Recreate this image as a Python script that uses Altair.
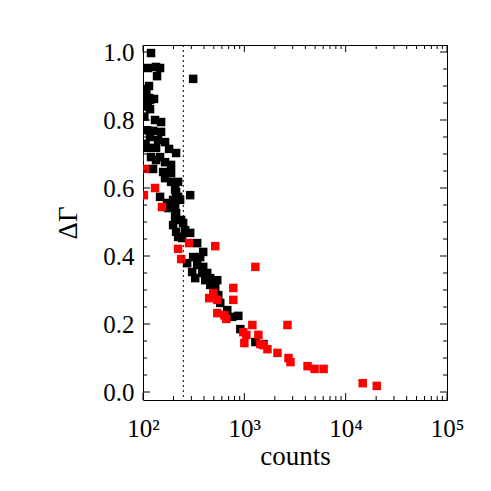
import altair as alt
import pandas as pd

# ---- data ----
black_counts = [120.0, 112.1, 134.5, 147.4, 137.6, 312.6, 114.7, 104.7, 107.1, 114.7,
                128.5, 112.1, 117.3, 131.5, 150.8, 125.6, 150.8, 117.3, 140.8, 165.1,
                112.1, 134.5, 180.9, 212.2, 120.0, 147.4, 134.5, 165.1, 125.6, 157.8,
                189.3, 189.3, 165.1, 189.3, 222.1, 207.4, 147.4, 222.1, 292.1, 212.2,
                172.8, 198.2, 232.4, 176.8, 207.4, 212.2, 207.4, 237.8, 198.2, 248.9,
                212.2, 260.5, 292.1, 222.1, 243.3, 342.5, 392.8, 312.6, 366.8, 272.7,
                342.5, 392.8, 305.6, 383.9, 430.2, 327.3, 411.1, 460.8, 540.5, 460.8,
                516.4, 552.9, 578.7, 678.6, 648.4, 760.5, 872.2, 912.8, 1285, 1542,
                104.0, 108.0, 103.0, 110.0, 106.0, 118.0]
black_dg = [0.997, 0.953, 0.956, 0.953, 0.929, 0.921, 0.900, 0.891, 0.865, 0.865,
            0.862, 0.847, 0.832, 0.800, 0.794, 0.768, 0.765, 0.750, 0.741, 0.735,
            0.718, 0.718, 0.715, 0.703, 0.691, 0.691, 0.682, 0.676, 0.656, 0.647,
            0.668, 0.644, 0.629, 0.618, 0.618, 0.594, 0.574, 0.574, 0.579, 0.588,
            0.556, 0.565, 0.565, 0.541, 0.541, 0.526, 0.515, 0.506, 0.491, 0.497,
            0.471, 0.476, 0.468, 0.456, 0.453, 0.438, 0.412, 0.397, 0.397, 0.379,
            0.374, 0.368, 0.353, 0.350, 0.350, 0.335, 0.329, 0.335, 0.329, 0.315,
            0.309, 0.285, 0.262, 0.241, 0.226, 0.221, 0.224, 0.185, 0.147, 0.141,
            0.84, 0.88, 0.81, 0.77, 0.73, 0.86]

red_counts = [92, 104.7, 102, 131.5, 154, 285, 516, 222, 238, 1285,
              778, 450, 493, 541, 778, 541, 634, 664, 1200, 2665,
              977, 1047, 1376, 1000, 1439, 1542, 1690, 2123, 2727, 2853,
              4205, 4935, 6057, 14730, 20280]
red_dg = [0.691, 0.656, 0.579, 0.600, 0.544, 0.438, 0.429, 0.421, 0.391, 0.368,
          0.306, 0.276, 0.291, 0.271, 0.271, 0.232, 0.226, 0.215, 0.197, 0.197,
          0.176, 0.168, 0.168, 0.144, 0.141, 0.138, 0.126, 0.115, 0.100, 0.088,
          0.076, 0.068, 0.068, 0.026, 0.018]

cut_counts = [250]

x_major = [100, 1000, 10000, 100000]
x_minor = [m * d for d in (100, 1000, 10000) for m in range(2, 10)]
y_major = [0.0, 0.2, 0.4, 0.6, 0.8, 1.0]
y_minor = [0.05, 0.10, 0.15, 0.25, 0.30, 0.35, 0.45, 0.50, 0.55, 0.65,
           0.70, 0.75, 0.85, 0.90, 0.95]

# ---- tables ----
pts = pd.DataFrame({
    "counts": black_counts + red_counts,
    "dg": black_dg + red_dg,
    "grp": ["black"] * len(black_counts) + ["red"] * len(red_counts),
})
xmaj = pd.DataFrame({"counts": x_major})
xmin = pd.DataFrame({"counts": x_minor})
ymaj = pd.DataFrame({"dg": y_major})
ymin = pd.DataFrame({"dg": y_minor})
cut = pd.DataFrame({"counts": cut_counts})

W, H = 304, 355
FONT = "Liberation Serif"
xs = alt.Scale(type="log", domain=[100, 100000], nice=False)
ys = alt.Scale(domain=[-0.0235, 1.0206], nice=False, zero=False)

label_expr = ("datum.value == 100 ? '10²' : datum.value == 1000 ? '10³' : "
              "datum.value == 10000 ? '10⁴' : '10⁵'")

common = dict(labelFont=FONT, labelFontSize=25, labelColor="black",
              titleFont=FONT, titleFontSize=27, titleFontWeight="normal",
              titleColor="black", ticks=False, domain=False, grid=False)

XAX = alt.Axis(values=x_major, labelExpr=label_expr, labelPadding=16,
               titlePadding=2, labelFlush=False, **common)
YAX = alt.Axis(values=y_major, format=".1f", labelPadding=9, titlePadding=20,
               **common)

def X():
    return alt.X("counts:Q", scale=xs, title="counts", axis=XAX)

def Y():
    return alt.Y("dg:Q", scale=ys, title="ΔΓ", axis=YAX)

points = alt.Chart(pts).mark_square(size=72, opacity=1, clip=True).encode(
    x=X(), y=Y(),
    color=alt.Color("grp:N", scale=alt.Scale(domain=["black", "red"],
                                             range=["#000000", "#ff0000"]),
                    legend=None),
    order=alt.Order("grp:N"),
)

cutline = alt.Chart(cut).mark_rule(color="black", strokeWidth=1,
                                   strokeDash=[2, 3]).encode(x=X())

TL, TS = 7, 4
def xticks(df, L):
    b = alt.Chart(df).mark_rule(color="black", strokeWidth=1).encode(
        x=X(), y=alt.value(H), y2=alt.value(H - L))
    t = alt.Chart(df).mark_rule(color="black", strokeWidth=1).encode(
        x=X(), y=alt.value(0), y2=alt.value(L))
    return [b, t]

def yticks(df, L):
    l = alt.Chart(df).mark_rule(color="black", strokeWidth=1).encode(
        y=Y(), x=alt.value(0), x2=alt.value(L))
    r = alt.Chart(df).mark_rule(color="black", strokeWidth=1).encode(
        y=Y(), x=alt.value(W), x2=alt.value(W - L))
    return [l, r]

layers = [points, cutline] + xticks(xmaj, TL) + xticks(xmin, TS) \
    + yticks(ymaj, TL) + yticks(ymin, TS)

chart = alt.layer(*layers).properties(
    width=W, height=H,
    background="white",
    autosize=alt.AutoSizeParams(type="none"),
    padding={"left": 135, "top": 37, "right": 30, "bottom": 82},
).configure_view(
    stroke="black", strokeWidth=1
)

chart.save("out.html", embed_options={"renderer": "svg", "actions": False})
